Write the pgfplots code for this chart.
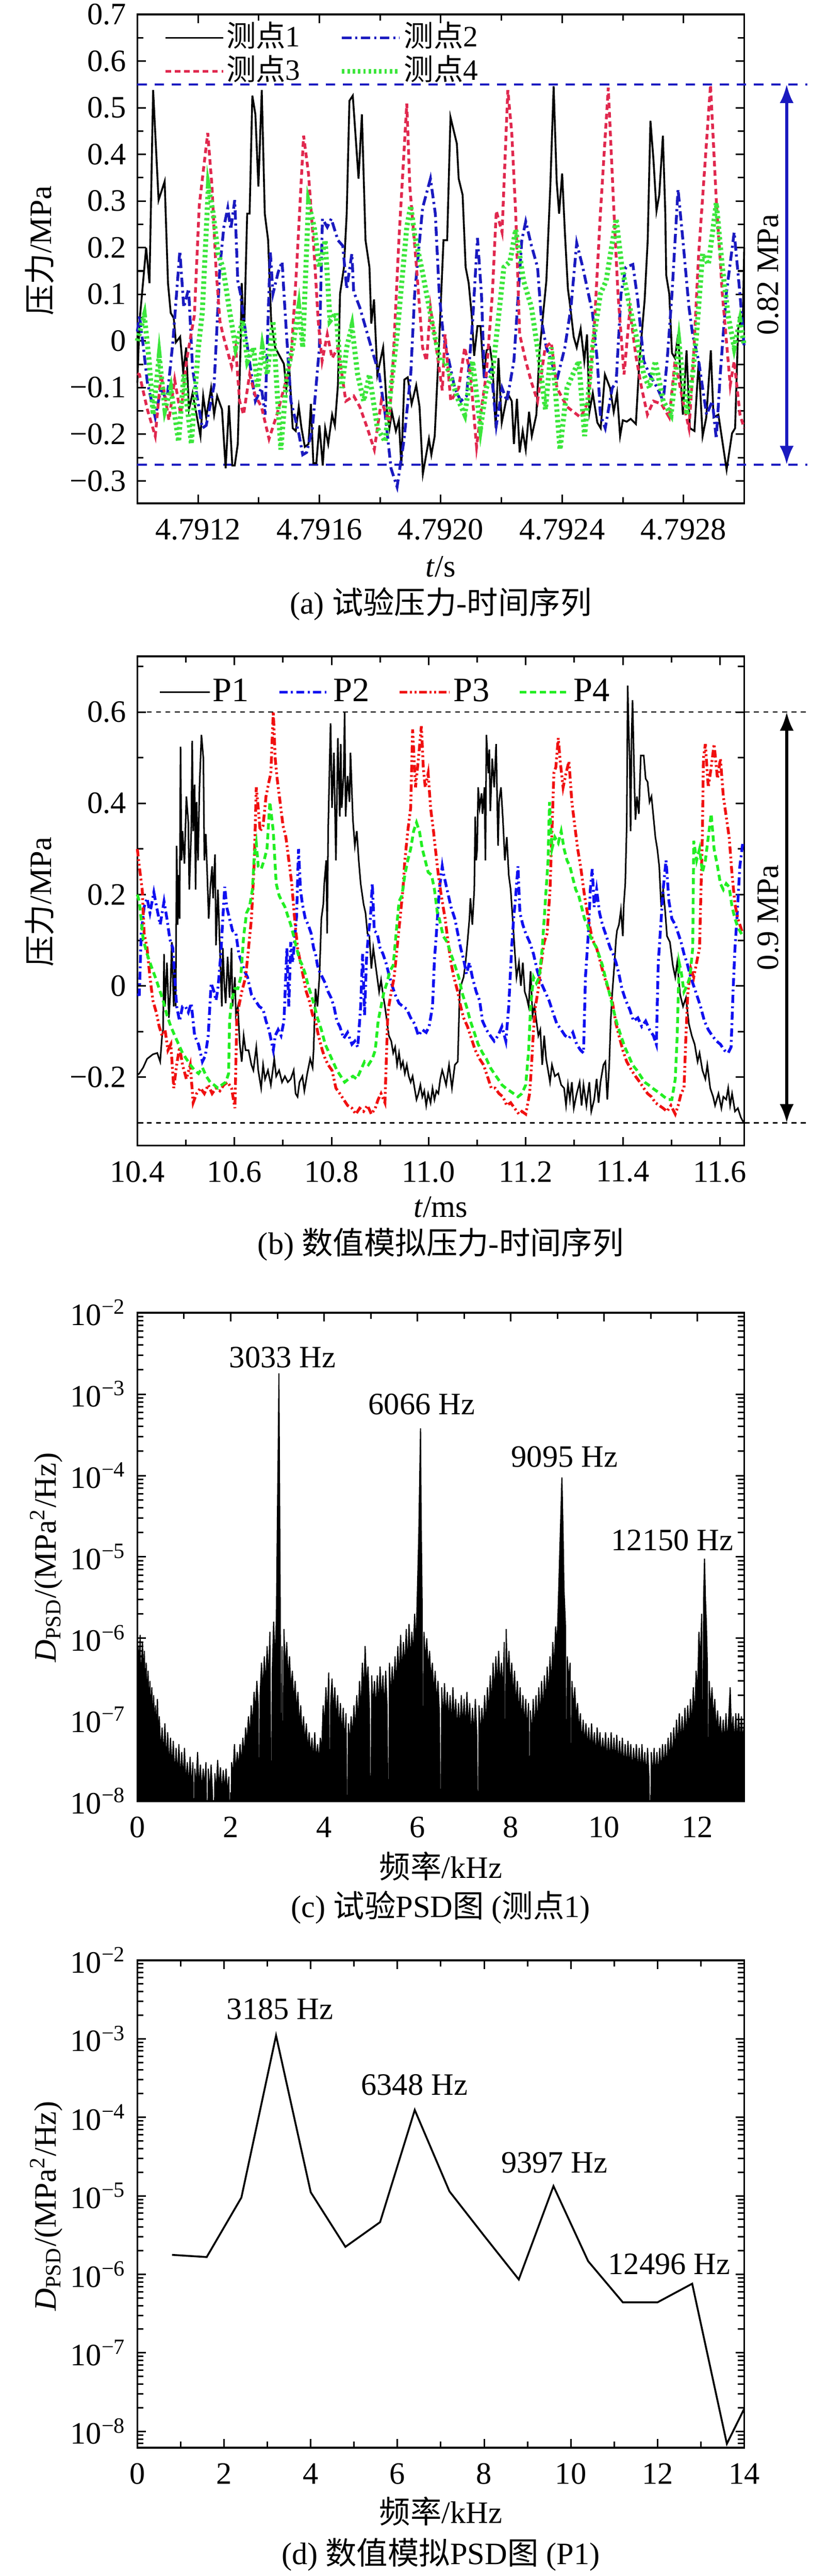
\documentclass[border=0pt]{standalone}
\usepackage{fontspec}
\setmainfont{Liberation Serif}
\newfontfamily\cjk{Noto Sans CJK SC}
\usepackage{pgfplots}
\pgfplotsset{compat=1.18}
\usetikzlibrary{arrows.meta}
\definecolor{ablue}{HTML}{1A1AC0}
\definecolor{ared}{HTML}{E0284E}
\definecolor{agreen}{HTML}{3CE63C}
\definecolor{bblue}{HTML}{1010F0}
\definecolor{bred}{HTML}{F01010}
\definecolor{bgreen}{HTML}{22EE22}
\pgfplotsset{
  common/.style={
    scale only axis, width=194.85pt,
    axis line style={line width=0.6pt},
    every tick/.style={line width=0.5pt, black},
    major tick length=2.8pt, minor tick length=2pt,
    tick align=inside,
    tick label style={font=\fontsize{10}{12}\selectfont},
    xticklabel style={yshift=-1.5pt},
    scaled ticks=false,
  },
  logminor/.style={minor ytick={7e-9,8e-9,9e-9,2e-8,3e-8,4e-8,5e-8,6e-8,7e-8,8e-8,9e-8,2e-7,3e-7,4e-7,5e-7,6e-7,7e-7,8e-7,9e-7,2e-6,3e-6,4e-6,5e-6,6e-6,7e-6,8e-6,9e-6,2e-5,3e-5,4e-5,5e-5,6e-5,7e-5,8e-5,9e-5,2e-4,3e-4,4e-4,5e-4,6e-4,7e-4,8e-4,9e-4,2e-3,3e-3,4e-3,5e-3,6e-3,7e-3,8e-3,9e-3}},
  legimg/.style={legend image code/.code={\draw[##1] (0pt,0pt) -- (#1,0pt);}},
}
\begin{document}
\begin{tikzpicture}
\useasboundingbox (0,0) rectangle (265.8pt,-827.7pt);
\tikzset{lab/.style={font=\fontsize{10}{12}\selectfont, inner sep=0pt}}
% ---------------- (a) ----------------
\begin{axis}[common, at={(44.1pt,-4.65pt)}, anchor=north west, height=157.05pt,
  xmin=0, xmax=2000, ymin=-0.348, ymax=0.7, clip=false,
  xtick={200,600,1000,1400,1800}, xticklabels={4.7912,4.7916,4.7920,4.7924,4.7928},
  minor xtick={400,800,1200,1600},
  ytick={-0.3,-0.2,-0.1,0,0.1,0.2,0.3,0.4,0.5,0.6,0.7},
  yticklabels={−0.3,−0.2,−0.1,0,0.1,0.2,0.3,0.4,0.5,0.6,0.7},
  minor ytick={-0.25,-0.15,-0.05,0.05,0.15,0.25,0.35,0.45,0.55,0.65},
  legend columns=2, legend cell align=left, legimg=18.5pt,
  legend style={draw=none, fill=none, at={(axis description cs:0.043,0.988)}, anchor=north west,
    inner sep=0pt, row sep=0pt,
    nodes={inner sep=0.6pt, text height=7.6pt, text depth=2pt, font=\fontsize{9.5}{11}\selectfont},
    /tikz/every even column/.append style={column sep=12pt}},
]
\draw[ablue, line width=0.6pt, dash pattern=on 3pt off 2.5pt] (axis cs:0,0.55) -- (axis cs:2209,0.55);
\draw[ablue, line width=0.6pt, dash pattern=on 3pt off 2.5pt] (axis cs:0,-0.265) -- (axis cs:2209,-0.265);
\addplot[black, line width=0.6pt] coordinates {
(0,-0.09) (7,0.04) (29,0.2) (40,0.124) (52,0.538) (70,0.302) (90,0.342) (101,0.124) (110,0.06) (120,0.049) (127,-0.003) (141,0.009) (151,-0.066) (161,-0.014) (170,-0.147) (182,-0.112) (208,-0.204) (217,-0.118) (227,-0.164) (243,-0.101) (253,-0.158) (263,-0.118) (279,-0.147) (291,-0.273) (302,-0.138) (313,-0.267) (321,-0.267) (331,-0.221) (340,-0.014) (344,0.124) (349,0.043) (353,0.043) (362,0.273) (370,0.273) (379,0.526) (389,0.486) (399,0.331) (410,0.538) (420,0.273) (431,0.216) (441,0.043) (454,-0.014) (473,-0.037) (483,-0.049) (491,-0.101) (500,-0.049) (512,-0.187) (522,-0.193) (532,-0.141) (541,-0.187) (552,-0.227) (564,-0.221) (572,-0.135) (580,-0.262) (590,-0.262) (600,-0.181) (611,-0.267) (619,-0.187) (629,-0.221) (642,-0.158) (651,-0.181) (661,-0.095) (668,0.101) (681,0.158) (690,0.273) (699,0.515) (710,0.526) (729,0.348) (740,0.486) (752,0.216) (765,0.158) (771,0.037) (780,0.089) (791,-0.072) (810,-0.014) (823,-0.152) (831,-0.187) (839,-0.152) (852,-0.193) (862,-0.170) (870,-0.267) (880,-0.083) (891,-0.078) (904,-0.135) (919,-0.095) (930,-0.141) (941,-0.285) (961,-0.210) (969,-0.244) (980,-0.204) (995,0.003) (1009,0.216) (1021,0.216) (1032,0.480) (1053,0.423) (1059,0.348) (1072,0.313) (1082,0.158) (1092,0.124) (1102,0.055) (1110,-0.032) (1121,0.032) (1131,0.032) (1142,-0.078) (1151,-0.020) (1162,-0.014) (1170,-0.049) (1181,-0.187) (1190,-0.037) (1201,-0.175) (1220,-0.112) (1234,-0.129) (1241,-0.221) (1251,-0.124) (1260,-0.239) (1270,-0.193) (1280,-0.233) (1291,-0.152) (1300,-0.204) (1315,-0.158) (1325,-0.026) (1348,0.129) (1361,0.331) (1372,0.546) (1382,0.342) (1390,0.273) (1400,0.359) (1409,0.233) (1419,0.112) (1427,0.072) (1438,0.009) (1448,-0.014) (1461,0.026) (1473,-0.043) (1482,0.014) (1490,-0.152) (1501,-0.112) (1516,-0.175) (1527,-0.187) (1541,-0.072) (1558,-0.101) (1570,-0.152) (1581,-0.112) (1591,-0.204) (1600,-0.170) (1613,-0.173) (1626,-0.167) (1643,-0.178) (1654,-0.049) (1672,0.089) (1682,0.216) (1691,0.472) (1701,0.388) (1711,0.279) (1720,0.313) (1732,0.440) (1740,0.273) (1743,0.141) (1753,0.101) (1762,-0.026) (1772,-0.037) (1782,0.014) (1798,-0.158) (1810,-0.020) (1821,-0.187) (1836,-0.193) (1850,-0.043) (1863,-0.204) (1875,-0.164) (1890,-0.020) (1899,-0.164) (1915,-0.158) (1942,-0.276) (1960,-0.198) (1970,-0.187) (1980,0.026) (1996,0.055) (2000,0.2)
};
\addlegendentry{{\cjk 测点}1}
\addplot[ablue, line width=0.9pt, dash pattern=on 3pt off 1.2pt on 0.7pt off 1.2pt] coordinates {
(0,0.02) (7,0.055) (20,-0.014) (33,-0.089) (59,-0.164) (78,-0.101) (97,-0.129) (117,-0.003) (140,0.193) (153,0.072) (169,0.112) (182,-0.060) (214,-0.187) (227,-0.181) (253,-0.095) (272,0.158) (285,0.244) (298,0.285) (308,0.239) (321,0.302) (331,0.129) (340,0.101) (363,-0.014) (389,-0.129) (409,-0.101) (421,-0.158) (438,0.193) (447,0.101) (464,0.147) (477,0.170) (486,0.072) (506,-0.129) (532,-0.198) (545,-0.244) (558,-0.239) (577,-0.187) (600,-0.014) (610,0.262) (626,0.244) (639,0.262) (661,0.216) (677,0.204) (690,0.112) (707,0.187) (713,0.106) (733,0.072) (746,0.043) (771,-0.014) (797,-0.072) (817,-0.158) (836,-0.273) (856,-0.313) (878,-0.216) (901,-0.072) (914,0.101) (940,0.285) (966,0.348) (982,0.273) (995,0.101) (1008,0.014) (1027,-0.043) (1046,-0.101) (1066,-0.129) (1085,-0.118) (1105,0.043) (1121,0.221) (1134,0.101) (1144,-0.083) (1166,-0.060) (1183,-0.181) (1202,-0.101) (1218,-0.129) (1241,-0.043) (1267,0.216) (1280,0.256) (1299,0.204) (1319,0.158) (1332,0.043) (1348,-0.014) (1364,-0.043) (1383,-0.083) (1409,-0.014) (1429,0.072) (1448,0.210) (1468,0.158) (1500,0.060) (1516,-0.043) (1526,-0.158) (1542,-0.187) (1565,-0.101) (1578,-0.089) (1594,0.101) (1610,0.158) (1633,0.164) (1649,0.089) (1669,-0.043) (1688,-0.072) (1714,-0.101) (1733,-0.129) (1746,-0.043) (1762,0.101) (1782,0.325) (1798,0.216) (1818,0.072) (1830,0.014) (1850,-0.043) (1863,-0.101) (1876,-0.158) (1895,-0.129) (1908,-0.210) (1921,-0.072) (1941,0.101) (1967,0.233) (1986,0.101) (2000,-0.014)
};
\addlegendentry{{\cjk 测点}2}
\addplot[ared, line width=0.9pt, dash pattern=on 1.8pt off 1.2pt] coordinates {
(0,-0.07) (7,-0.072) (33,-0.147) (59,-0.204) (78,-0.072) (91,-0.118) (104,-0.170) (123,-0.083) (143,-0.158) (162,-0.043) (188,0.055) (204,0.290) (232,0.446) (246,0.331) (259,0.158) (272,0.043) (282,0.014) (311,-0.055) (324,-0.014) (337,-0.129) (350,-0.158) (370,-0.072) (389,-0.118) (409,-0.141) (434,-0.210) (460,-0.158) (486,-0.095) (506,-0.043) (525,0.158) (548,0.440) (564,0.359) (583,0.187) (596,0.043) (609,-0.043) (626,0.014) (642,-0.037) (661,-0.014) (687,-0.129) (713,-0.118) (733,-0.141) (758,-0.187) (781,-0.233) (804,-0.129) (830,-0.175) (843,-0.043) (862,0.216) (888,0.509) (898,0.331) (920,0.158) (940,-0.014) (953,-0.043) (966,0.072) (985,-0.014) (1005,-0.106) (1014,0.014) (1033,-0.129) (1059,-0.101) (1079,-0.014) (1098,-0.072) (1118,-0.227) (1131,-0.158) (1150,-0.072) (1170,0.101) (1183,0.279) (1202,0.233) (1221,0.538) (1234,0.446) (1247,0.273) (1260,0.014) (1280,-0.043) (1299,-0.089) (1319,-0.129) (1344,-0.014) (1364,-0.003) (1383,-0.101) (1416,-0.141) (1461,-0.164) (1487,-0.129) (1507,0.043) (1526,0.273) (1552,0.543) (1571,0.273) (1584,0.101) (1604,-0.072) (1623,0.066) (1643,-0.032) (1662,-0.101) (1681,-0.158) (1701,-0.129) (1727,-0.135) (1753,-0.164) (1772,-0.043) (1798,-0.129) (1818,-0.187) (1830,-0.072) (1850,0.187) (1889,0.549) (1908,0.302) (1928,0.101) (1954,-0.095) (1967,-0.043) (1986,-0.158) (2000,-0.187)
};
\addlegendentry{{\cjk 测点}3}
\addplot[agreen, line width=1.6pt, dash pattern=on 0.8pt off 0.9pt] coordinates {
(0,0.0) (23,0.055) (39,-0.043) (52,-0.158) (72,-0.032) (91,-0.147) (110,-0.101) (136,-0.216) (153,-0.072) (178,-0.221) (201,-0.014) (214,0.060) (234,0.331) (250,0.273) (266,0.187) (282,0.158) (305,0.060) (324,-0.014) (347,0.043) (363,-0.043) (383,-0.014) (396,-0.101) (412,-0.014) (428,-0.072) (447,0.043) (460,-0.101) (473,-0.233) (493,-0.072) (512,-0.014) (532,0.072) (545,-0.014) (564,0.296) (583,0.244) (600,0.158) (619,0.216) (635,0.043) (655,0.060) (674,-0.101) (690,-0.014) (707,0.032) (726,-0.072) (746,-0.129) (765,-0.072) (791,-0.187) (817,-0.216) (836,-0.101) (856,0.014) (888,0.244) (901,0.290) (914,0.227) (940,0.147) (953,0.101) (979,0.014) (998,-0.043) (1014,-0.043) (1059,-0.129) (1079,-0.158) (1105,-0.043) (1131,-0.187) (1150,-0.101) (1170,-0.072) (1189,0.043) (1208,0.158) (1228,0.170) (1247,0.239) (1273,0.129) (1299,0.072) (1325,-0.043) (1345,-0.147) (1364,-0.014) (1377,-0.101) (1393,-0.233) (1416,-0.101) (1435,-0.072) (1455,-0.043) (1474,-0.204) (1500,-0.014) (1526,0.101) (1545,0.129) (1578,0.262) (1597,0.158) (1623,0.072) (1643,0.014) (1669,-0.072) (1688,-0.101) (1707,-0.043) (1733,-0.129) (1759,-0.158) (1785,-0.003) (1811,-0.158) (1830,-0.072) (1843,0.014) (1863,0.187) (1882,0.164) (1908,0.296) (1928,0.158) (1947,0.055) (1967,-0.014) (1986,0.043) (2000,-0.01)
};
\addlegendentry{{\cjk 测点}4}
\draw[ablue, line width=0.9pt, {Latex[length=6pt,width=4.5pt]}-{Latex[length=6pt,width=4.5pt]}] (axis cs:2140,0.55) -- (axis cs:2140,-0.265);
\node[lab, rotate=90] at (axis cs:2078,0.142) {0.82 MPa};
\end{axis}
% ---------------- (b) ----------------
\begin{axis}[common, at={(44.1pt,-210.9pt)}, anchor=north west, height=157.2pt,
  xmin=10.4, xmax=11.65, ymin=-0.35, ymax=0.722, clip=false,
  xtick={10.4,10.6,10.8,11.0,11.2,11.4,11.6}, xticklabels={10.4,10.6,10.8,11.0,11.2,11.4,11.6},
  minor xtick={10.5,10.7,10.9,11.1,11.3,11.5},
  ytick={-0.2,0,0.2,0.4,0.6}, yticklabels={−0.2,0,0.2,0.4,0.6},
  minor ytick={-0.3,-0.1,0.1,0.3,0.5,0.7},
  legend columns=4, legend cell align=left, legimg=16pt,
  legend style={draw=none, fill=none, at={(axis description cs:0.0346,0.962)}, anchor=north west,
    inner sep=0pt,
    nodes={inner sep=0.8pt, text height=7.5pt, text depth=1.5pt, font=\fontsize{11}{13}\selectfont},
    /tikz/every even column/.append style={column sep=8.5pt}},
]
\draw[black, line width=0.4pt, dash pattern=on 1.6pt off 1.4pt] (axis cs:10.4,0.6) -- (axis cs:11.781,0.6);
\draw[black, line width=0.4pt, dash pattern=on 1.6pt off 1.4pt] (axis cs:10.4,-0.3) -- (axis cs:11.781,-0.3);
\addplot[black, line width=0.5pt] coordinates {
(10.400,-0.195) (10.404,-0.192) (10.412,-0.179) (10.420,-0.160) (10.432,-0.150) (10.441,-0.147) (10.447,-0.166) (10.451,-0.109) (10.453,-0.096) (10.455,0.070) (10.457,-0.045) (10.461,0.051) (10.465,-0.070) (10.468,-0.013) (10.471,0.096) (10.473,0.019) (10.475,-0.045) (10.477,0.051) (10.479,-0.045) (10.481,0.307) (10.483,0.134) (10.485,0.243) (10.487,0.147) (10.489,0.524) (10.491,0.275) (10.493,0.339) (10.497,0.268) (10.501,0.415) (10.505,0.358) (10.507,0.211) (10.511,0.339) (10.513,0.537) (10.515,0.339) (10.518,0.441) (10.520,0.211) (10.522,0.403) (10.525,0.275) (10.528,0.435) (10.532,0.550) (10.536,0.498) (10.538,0.275) (10.541,0.333) (10.544,0.243) (10.547,0.147) (10.550,0.211) (10.554,0.262) (10.556,0.192) (10.560,0.288) (10.562,0.089) (10.566,0.211) (10.570,0.083) (10.574,-0.045) (10.576,0.083) (10.580,-0.013) (10.582,-0.038) (10.586,0.064) (10.590,-0.026) (10.594,0.083) (10.596,-0.045) (10.601,0.019) (10.603,-0.064) (10.607,-0.045) (10.611,-0.128) (10.615,-0.166) (10.619,-0.109) (10.623,-0.141) (10.629,-0.141) (10.635,-0.173) (10.639,-0.185) (10.645,-0.134) (10.649,-0.185) (10.655,-0.224) (10.659,-0.173) (10.663,-0.204) (10.669,-0.185) (10.675,-0.217) (10.682,-0.160) (10.686,-0.198) (10.692,-0.185) (10.698,-0.211) (10.704,-0.198) (10.710,-0.211) (10.716,-0.204) (10.722,-0.185) (10.726,-0.236) (10.730,-0.243) (10.734,-0.211) (10.740,-0.198) (10.744,-0.230) (10.750,-0.192) (10.756,-0.160) (10.761,-0.179) (10.763,-0.141) (10.767,-0.006) (10.771,-0.045) (10.775,0.019) (10.779,0.147) (10.783,0.179) (10.785,0.224) (10.789,0.275) (10.791,0.115) (10.793,0.339) (10.796,0.486) (10.798,0.575) (10.801,0.390) (10.805,0.511) (10.809,0.275) (10.813,0.543) (10.817,0.371) (10.819,0.530) (10.821,0.390) (10.825,0.466) (10.827,0.601) (10.829,0.371) (10.833,0.460) (10.837,0.403) (10.839,0.511) (10.844,0.364) (10.848,0.307) (10.852,0.339) (10.856,0.275) (10.860,0.224) (10.866,0.179) (10.870,0.160) (10.874,0.115) (10.878,0.109) (10.882,0.038) (10.886,0.083) (10.890,0.051) (10.894,0.019) (10.898,-0.013) (10.902,0.013) (10.906,-0.019) (10.910,-0.045) (10.914,-0.077) (10.918,-0.109) (10.923,-0.121) (10.927,-0.147) (10.931,-0.134) (10.935,-0.173) (10.939,-0.147) (10.943,-0.179) (10.947,-0.166) (10.951,-0.192) (10.955,-0.173) (10.959,-0.198) (10.963,-0.211) (10.967,-0.198) (10.971,-0.224) (10.975,-0.249) (10.979,-0.236) (10.983,-0.217) (10.987,-0.243) (10.991,-0.230) (10.995,-0.262) (10.999,-0.236) (11.004,-0.256) (11.008,-0.224) (11.012,-0.249) (11.016,-0.230) (11.020,-0.236) (11.024,-0.204) (11.028,-0.185)
(11.030,-0.192) (11.036,-0.217) (11.042,-0.173) (11.048,-0.224) (11.054,-0.173) (11.060,-0.166) (11.064,-0.013) (11.068,0.006) (11.072,0.019) (11.076,0.051) (11.080,0.096) (11.084,0.147) (11.086,0.192) (11.090,0.134) (11.094,0.211) (11.096,0.371) (11.098,0.275) (11.100,0.300) (11.102,0.435) (11.105,0.390) (11.109,0.422) (11.111,0.377) (11.115,0.435) (11.117,0.275) (11.119,0.550) (11.123,0.466) (11.125,0.518) (11.127,0.383) (11.131,0.498) (11.135,0.435) (11.139,0.530) (11.143,0.307) (11.145,0.403) (11.149,0.435) (11.153,0.364) (11.157,0.275) (11.161,0.326) (11.165,0.243) (11.169,0.211) (11.173,0.147) (11.177,0.083) (11.181,0.019) (11.186,0.051) (11.190,0) (11.194,0.051) (11.198,-0.013) (11.202,-0.026) (11.206,-0.045) (11.210,0.032) (11.214,-0.064) (11.218,-0.045) (11.222,-0.077) (11.226,-0.109) (11.230,-0.096) (11.234,-0.173) (11.238,-0.109) (11.242,-0.160) (11.246,-0.185) (11.250,-0.211) (11.254,-0.173) (11.260,-0.198) (11.267,-0.192) (11.273,-0.217) (11.279,-0.224) (11.283,-0.262) (11.287,-0.217) (11.291,-0.249) (11.295,-0.211) (11.299,-0.268) (11.305,-0.236) (11.311,-0.211) (11.315,-0.262) (11.319,-0.217) (11.325,-0.262) (11.331,-0.211) (11.335,-0.275) (11.341,-0.249) (11.346,-0.204) (11.350,-0.256) (11.354,-0.211) (11.360,-0.173) (11.364,-0.166) (11.368,-0.249) (11.372,-0.173) (11.375,-0.077) (11.378,-0.019) (11.382,0.038) (11.386,0.102) (11.388,0.121) (11.392,0.134) (11.396,0.166) (11.400,0.109) (11.402,0.179) (11.405,0.224) (11.408,0.351) (11.410,0.658) (11.412,0.562) (11.414,0.498) (11.416,0.339) (11.418,0.543) (11.420,0.626) (11.422,0.530) (11.424,0.435) (11.426,0.364) (11.429,0.415) (11.433,0.377) (11.437,0.505) (11.443,0.505) (11.447,0.454) (11.451,0.447) (11.455,0.403) (11.459,0.415) (11.463,0.371) (11.467,0.326) (11.471,0.300) (11.475,0.262) (11.479,0.173) (11.483,0.211) (11.487,0.166) (11.491,0.109) (11.497,0.096) (11.503,0.045) (11.508,0.019) (11.512,0.051) (11.518,-0.019) (11.524,-0.045) (11.530,-0.026) (11.536,-0.083) (11.542,-0.109) (11.548,-0.128) (11.554,-0.166) (11.558,-0.147) (11.564,-0.185) (11.570,-0.204) (11.574,-0.173) (11.580,-0.224) (11.586,-0.243) (11.590,-0.262) (11.597,-0.236) (11.603,-0.268) (11.607,-0.243) (11.613,-0.249) (11.617,-0.224) (11.621,-0.262) (11.625,-0.236) (11.631,-0.275) (11.637,-0.268) (11.643,-0.288) (11.649,-0.300)
};
\addlegendentry{P1}
\addplot[bblue, line width=0.9pt, dash pattern=on 2.6pt off 1.1pt on 0.6pt off 1.1pt] coordinates {
(10.400,-0.02) (10.404,-0.019) (10.408,0.115) (10.414,0.173) (10.420,0.192) (10.426,0.160) (10.434,0.205) (10.441,0.166) (10.447,0.134) (10.455,0.185) (10.461,0.147) (10.467,0.102) (10.473,0.083) (10.477,0.019) (10.481,-0.045) (10.487,-0.077) (10.493,-0.045) (10.499,-0.045) (10.505,-0.058) (10.511,-0.038) (10.518,-0.109) (10.526,-0.128) (10.534,-0.166) (10.540,-0.153) (10.546,-0.109) (10.552,0.006) (10.558,-0.013) (10.562,-0.032) (10.566,-0.006) (10.572,0.070) (10.576,0.147) (10.580,0.217) (10.584,0.173) (10.590,0.147) (10.596,0.121) (10.603,0.115) (10.609,0.070) (10.615,0.051) (10.621,0.032) (10.627,0.019) (10.635,-0.019) (10.643,-0.032) (10.651,-0.045) (10.659,-0.051) (10.665,-0.077) (10.671,-0.096) (10.680,-0.141) (10.684,-0.109) (10.690,-0.096) (10.696,-0.109) (10.702,-0.077) (10.708,0.083) (10.712,-0.045) (10.716,0.096) (10.720,0.051) (10.724,0.102) (10.728,0.153) (10.732,0.300) (10.736,0.211) (10.740,0.179) (10.746,0.147) (10.752,0.134) (10.758,0.115) (10.763,0.083) (10.767,0.070) (10.771,0.045) (10.775,0.032) (10.781,0.019) (10.787,0.006) (10.793,-0.013) (10.799,-0.026) (10.805,-0.045) (10.811,-0.077) (10.817,-0.089) (10.825,-0.115) (10.833,-0.102) (10.842,-0.128) (10.848,-0.121) (10.854,-0.134) (10.860,-0.045) (10.864,0.070) (10.868,-0.064) (10.872,0.058) (10.876,0.115) (10.880,0.147) (10.884,0.224) (10.888,0.121) (10.894,0.115) (10.900,0.083) (10.906,0.070) (10.912,0.051) (10.918,0.026) (10.925,0) (10.931,-0.019) (10.939,-0.038) (10.947,-0.045) (10.955,-0.051) (10.963,-0.070) (10.971,-0.083) (10.979,-0.109) (10.987,-0.096) (10.995,-0.102) (11.001,-0.089) (11.008,-0.045) (11.012,0.058) (11.016,0.115) (11.022,0.211) (11.028,0.262)
(11.030,0.249) (11.038,0.211) (11.046,0.173) (11.054,0.147) (11.060,0.115) (11.066,0.083) (11.072,0.058) (11.078,0.026) (11.084,0.051) (11.090,0.019) (11.098,-0.013) (11.105,-0.032) (11.111,-0.077) (11.119,-0.096) (11.127,-0.109) (11.135,-0.121) (11.143,-0.109) (11.151,-0.089) (11.159,-0.121) (11.165,-0.045) (11.171,0.083) (11.175,0.147) (11.179,0.192) (11.184,0.262) (11.188,0.160) (11.194,0.134) (11.200,0.115) (11.208,0.096) (11.216,0.070) (11.224,0.032) (11.232,0.006) (11.240,-0.013) (11.248,-0.032) (11.256,-0.058) (11.264,-0.083) (11.273,-0.096) (11.281,-0.109) (11.289,-0.115) (11.297,-0.102) (11.305,-0.128) (11.313,-0.141) (11.319,-0.147) (11.323,0.019) (11.329,0.115) (11.333,0.211) (11.337,0.256) (11.341,0.173) (11.346,0.211) (11.352,0.160) (11.358,0.134) (11.366,0.109) (11.374,0.083) (11.380,0.070) (11.386,0.051) (11.392,0.026) (11.398,-0.006) (11.406,-0.032) (11.414,-0.051) (11.422,-0.077) (11.431,-0.070) (11.439,-0.089) (11.447,-0.077) (11.455,-0.096) (11.463,-0.109) (11.469,-0.128) (11.473,0.051) (11.477,0.115) (11.483,0.211) (11.489,0.275) (11.495,0.185) (11.501,0.147) (11.508,0.134) (11.514,0.115) (11.520,0.096) (11.526,0.070) (11.532,0.051) (11.538,0.026) (11.544,0.006) (11.552,-0.019) (11.560,-0.045) (11.568,-0.077) (11.576,-0.096) (11.584,-0.109) (11.593,-0.121) (11.601,-0.128) (11.609,-0.141) (11.617,-0.147) (11.623,-0.134) (11.627,-0.013) (11.631,0.083) (11.635,0.147) (11.641,0.262) (11.647,0.313)
};
\addlegendentry{P2}
\addplot[bred, line width=0.9pt, dash pattern=on 2.4pt off 0.9pt on 0.6pt off 0.9pt on 0.6pt off 0.9pt] coordinates {
(10.400,0.300) (10.404,0.262) (10.410,0.211) (10.414,0.115) (10.420,0.083) (10.426,0.019) (10.432,-0.032) (10.439,-0.058) (10.445,-0.089) (10.451,-0.109) (10.457,-0.096) (10.463,-0.141) (10.469,-0.128) (10.475,-0.224) (10.481,-0.173) (10.487,-0.134) (10.493,-0.173) (10.501,-0.204) (10.509,-0.173) (10.515,-0.256) (10.522,-0.236) (10.530,-0.224) (10.538,-0.236) (10.546,-0.217) (10.554,-0.236) (10.562,-0.224) (10.570,-0.230) (10.578,-0.217) (10.586,-0.211) (10.594,-0.224) (10.601,-0.268) (10.605,-0.064) (10.609,-0.045) (10.615,-0.013) (10.623,0.019) (10.629,0.083) (10.635,0.147) (10.641,0.275) (10.645,0.435) (10.649,0.390) (10.653,0.339) (10.659,0.351) (10.665,0.415) (10.671,0.447) (10.675,0.466) (10.680,0.601) (10.684,0.498) (10.688,0.454) (10.694,0.403) (10.700,0.351) (10.706,0.326) (10.712,0.275) (10.718,0.224) (10.724,0.147) (10.730,0.083) (10.736,0.051) (10.742,0.019) (10.748,-0.013) (10.754,-0.032) (10.761,-0.064) (10.767,-0.077) (10.773,-0.109) (10.781,-0.141) (10.787,-0.160) (10.793,-0.173) (10.801,-0.185) (10.809,-0.224) (10.817,-0.236) (10.825,-0.249) (10.833,-0.262) (10.842,-0.268) (10.850,-0.281) (10.858,-0.268) (10.866,-0.275) (10.874,-0.262) (10.882,-0.281) (10.890,-0.268) (10.896,-0.249) (10.902,-0.236) (10.910,-0.256) (10.916,-0.058) (10.923,-0.013) (10.929,0.019) (10.935,0.083) (10.941,0.147) (10.947,0.211) (10.951,0.275) (10.957,0.339) (10.963,0.390) (10.967,0.562) (10.973,0.435) (10.979,0.498) (10.985,0.569) (10.989,0.479) (10.993,0.435) (10.999,0.466) (11.004,0.390) (11.010,0.339) (11.014,0.300) (11.020,0.243) (11.026,0.198)
(11.034,0.147) (11.040,0.096) (11.046,0.051) (11.052,0.019) (11.060,-0.013) (11.066,-0.045) (11.072,-0.070) (11.080,-0.089) (11.088,-0.115) (11.096,-0.141) (11.105,-0.160) (11.113,-0.173) (11.121,-0.198) (11.129,-0.224) (11.137,-0.224) (11.145,-0.236) (11.153,-0.243) (11.161,-0.262) (11.169,-0.256) (11.177,-0.268) (11.186,-0.281) (11.192,-0.275) (11.200,-0.281) (11.208,-0.236) (11.212,-0.173) (11.216,-0.096) (11.220,-0.045) (11.226,-0.006) (11.232,0.051) (11.238,0.096) (11.244,0.115) (11.250,0.211) (11.254,0.339) (11.258,0.467) (11.262,0.479) (11.267,0.543) (11.271,0.492) (11.277,0.435) (11.283,0.466) (11.289,0.492) (11.295,0.403) (11.301,0.351) (11.307,0.300) (11.313,0.262) (11.321,0.198) (11.329,0.147) (11.337,0.102) (11.346,0.083) (11.354,0.051) (11.362,0.019) (11.370,-0.006) (11.378,-0.032) (11.386,-0.083) (11.392,-0.109) (11.400,-0.141) (11.408,-0.166) (11.418,-0.185) (11.426,-0.198) (11.435,-0.211) (11.443,-0.224) (11.451,-0.236) (11.459,-0.243) (11.467,-0.256) (11.475,-0.262) (11.483,-0.268) (11.491,-0.275) (11.499,-0.262) (11.508,-0.281) (11.514,-0.262) (11.520,-0.236) (11.526,-0.224) (11.530,-0.109) (11.534,-0.013) (11.540,0.038) (11.546,0.019) (11.552,0.051) (11.558,0.083) (11.564,0.339) (11.566,0.498) (11.570,0.530) (11.576,0.435) (11.582,0.479) (11.588,0.530) (11.595,0.454) (11.601,0.498) (11.607,0.415) (11.613,0.371) (11.619,0.326) (11.625,0.243) (11.631,0.179) (11.637,0.147) (11.647,0.115)
};
\addlegendentry{P3}
\addplot[bgreen, line width=0.9pt, dash pattern=on 2pt off 1.2pt] coordinates {
(10.400,0.200) (10.404,0.185) (10.412,0.102) (10.420,0.070) (10.428,0.045) (10.437,0.019) (10.445,-0.006) (10.453,-0.032) (10.461,-0.064) (10.469,-0.089) (10.477,-0.109) (10.485,-0.128) (10.493,-0.147) (10.501,-0.160) (10.509,-0.173) (10.518,-0.185) (10.526,-0.192) (10.534,-0.179) (10.542,-0.198) (10.550,-0.211) (10.558,-0.217) (10.566,-0.224) (10.574,-0.217) (10.582,-0.211) (10.588,-0.192) (10.590,-0.077) (10.594,-0.032) (10.601,-0.006) (10.607,-0.006) (10.613,0.019) (10.619,0.109) (10.625,0.160) (10.631,0.173) (10.637,0.211) (10.641,0.288) (10.645,0.313) (10.649,0.262) (10.655,0.256) (10.661,0.275) (10.667,0.300) (10.673,0.403) (10.680,0.339) (10.686,0.224) (10.692,0.198) (10.698,0.185) (10.704,0.173) (10.710,0.153) (10.716,0.134) (10.722,0.109) (10.728,0.083) (10.734,0.058) (10.740,0.045) (10.746,0.026) (10.752,0) (10.758,-0.019) (10.765,-0.045) (10.771,-0.070) (10.779,-0.096) (10.787,-0.128) (10.795,-0.147) (10.803,-0.166) (10.811,-0.185) (10.819,-0.198) (10.827,-0.211) (10.835,-0.204) (10.844,-0.198) (10.852,-0.204) (10.860,-0.185) (10.868,-0.166) (10.876,-0.173) (10.884,-0.160) (10.890,-0.141) (10.896,-0.077) (10.902,-0.045) (10.908,-0.013) (10.914,0.006) (10.920,0.032) (10.927,0.045) (10.933,0.115) (10.939,0.185) (10.945,0.198) (10.951,0.243) (10.957,0.275) (10.963,0.300) (10.969,0.339) (10.975,0.358) (10.981,0.339) (10.987,0.300) (10.993,0.275) (10.999,0.249) (11.006,0.243) (11.012,0.211) (11.018,0.160)
(11.022,0.147) (11.030,0.109) (11.038,0.096) (11.046,0.070) (11.054,0.045) (11.062,0.019) (11.070,-0.019) (11.078,-0.045) (11.086,-0.077) (11.094,-0.102) (11.102,-0.128) (11.111,-0.147) (11.119,-0.160) (11.127,-0.179) (11.135,-0.192) (11.143,-0.204) (11.151,-0.217) (11.159,-0.224) (11.167,-0.230) (11.175,-0.236) (11.184,-0.243) (11.192,-0.236) (11.200,-0.217) (11.206,-0.141) (11.210,-0.045) (11.216,0.019) (11.222,0.006) (11.228,0.019) (11.234,0.083) (11.240,0.179) (11.246,0.275) (11.249,0.403) (11.254,0.300) (11.260,0.326) (11.267,0.313) (11.273,0.339) (11.279,0.300) (11.285,0.275) (11.291,0.262) (11.297,0.236) (11.303,0.211) (11.309,0.198) (11.315,0.173) (11.321,0.147) (11.327,0.134) (11.333,0.109) (11.339,0.096) (11.346,0.083) (11.352,0.064) (11.358,0.045) (11.364,0.019) (11.370,-0.006) (11.376,-0.032) (11.382,-0.058) (11.388,-0.083) (11.396,-0.109) (11.404,-0.134) (11.412,-0.153) (11.420,-0.173) (11.429,-0.185) (11.437,-0.198) (11.445,-0.211) (11.453,-0.217) (11.461,-0.224) (11.469,-0.230) (11.477,-0.236) (11.485,-0.243) (11.493,-0.249) (11.501,-0.249) (11.508,-0.204) (11.512,-0.109) (11.516,0.051) (11.520,0.032) (11.526,-0.013) (11.532,0) (11.538,0.019) (11.544,0.083) (11.546,0.318) (11.552,0.275) (11.558,0.300) (11.564,0.249) (11.570,0.275) (11.576,0.326) (11.582,0.377) (11.588,0.300) (11.595,0.262) (11.601,0.224) (11.607,0.211) (11.613,0.224) (11.619,0.217) (11.625,0.173) (11.631,0.147) (11.637,0.128) (11.647,0.109)
};
\addlegendentry{P4}
\draw[black, line width=0.9pt, {Latex[length=6pt,width=4.5pt]}-{Latex[length=6pt,width=4.5pt]}] (axis cs:11.7376,0.6) -- (axis cs:11.7376,-0.3);
\node[lab, rotate=90] at (axis cs:11.699,0.15) {0.9 MPa};
\end{axis}
% ---------------- (c) ----------------
\begin{axis}[common, logminor, at={(44.1pt,-421.8pt)}, anchor=north west, height=156.9pt,
  ymode=log, xmin=0, xmax=13, ymin=1e-8, ymax=1e-2,
  xtick={0,2,4,6,8,10,12}, xticklabels={0,2,4,6,8,10,12}, minor xtick={1,3,5,7,9,11,13},
  ytick={1e-8,1e-7,1e-6,1e-5,1e-4,1e-3,1e-2},
  yticklabels={10\textsuperscript{−8},10\textsuperscript{−7},10\textsuperscript{−6},10\textsuperscript{−5},10\textsuperscript{−4},10\textsuperscript{−3},10\textsuperscript{−2}},
]
\addplot[black, fill=black, line width=0.35pt] coordinates {
(0.00,1e-9) (0.00,3e-7) (0.02,8e-7) (0.04,4e-7) (0.06,1.1e-6) (0.08,1e-9) (0.09,5e-7) (0.11,9e-7) (0.13,3e-7) (0.15,7e-7) (0.17,2e-7) (0.19,5e-7) (0.21,1.5e-7) (0.23,4e-7) (0.25,1.2e-7) (0.27,3e-7) (0.29,1e-7) (0.31,2.5e-7) (0.33,8e-8) (0.35,2e-7) (0.37,7e-8) (0.39,1.5e-7) (0.41,6e-8) (0.43,1.8e-7) (0.45,5e-8) (0.47,1.1e-7) (0.50,4e-8) (0.53,8e-8) (0.56,3.5e-8) (0.59,9e-8) (0.62,3e-8) (0.65,7e-8) (0.68,2.5e-8) (0.71,6e-8) (0.74,2.5e-8) (0.77,5.5e-8) (0.80,2e-8) (0.83,4.5e-8) (0.86,2e-8) (0.89,5e-8) (0.92,1.8e-8) (0.95,4e-8) (0.98,1.8e-8)
(1.01,4.5e-8) (1.04,1.6e-8) (1.07,3e-8) (1.10,1.5e-8) (1.13,3.5e-8) (1.16,1.4e-8) (1.19,3e-8) (1.21,1e-9) (1.23,2.5e-8) (1.26,1.5e-8) (1.29,4e-8) (1.32,1.4e-8) (1.35,2.8e-8) (1.38,1.3e-8) (1.41,2.5e-8) (1.44,1.5e-8) (1.47,3e-8) (1.50,1e-9) (1.52,2.5e-8) (1.55,1.3e-8) (1.58,2.8e-8) (1.61,1.2e-8) (1.64,1e-9) (1.66,2.2e-8) (1.69,1.3e-8) (1.72,3.2e-8) (1.75,1.4e-8) (1.78,2.6e-8) (1.81,1.2e-8) (1.84,2.4e-8) (1.87,1.3e-8) (1.90,2.5e-8) (1.93,1.2e-8) (1.96,2e-8) (1.99,1e-9)
(2.02,3e-8) (2.05,2e-8) (2.08,5e-8) (2.11,2.2e-8) (2.14,4e-8) (2.17,2.5e-8) (2.20,5e-8) (2.23,2.8e-8) (2.26,6e-8) (2.29,3.5e-8) (2.32,8e-8) (2.35,5e-8) (2.38,1.1e-7) (2.41,6e-8) (2.44,1.5e-7) (2.47,8e-8) (2.50,2.2e-7) (2.53,1.2e-7) (2.56,3e-7) (2.59,1.5e-7) (2.61,1e-9) (2.63,2e-7) (2.66,5e-7) (2.69,2.2e-7) (2.72,6e-7) (2.75,2.5e-7) (2.78,8e-7) (2.81,3e-7) (2.84,1.2e-6) (2.87,1e-9) (2.89,4e-7) (2.92,1.6e-6) (2.95,5e-7) (2.98,2e-6)
(3.00,3e-5) (3.02,3e-4) (3.033,1.8e-3) (3.045,1e-4) (3.06,3e-6) (3.08,1e-9) (3.10,8e-7) (3.12,1e-9) (3.14,1.3e-6) (3.17,4e-7) (3.20,9e-7) (3.23,3e-7) (3.26,6e-7) (3.29,2.2e-7) (3.32,4e-7) (3.35,1.6e-7) (3.38,3e-7) (3.41,1.2e-7) (3.44,2.2e-7) (3.47,8e-8) (3.50,1.5e-7) (3.53,6e-8) (3.56,1.1e-7) (3.59,5e-8) (3.62,9e-8) (3.65,4e-8) (3.68,7e-8) (3.71,3.5e-8) (3.74,6e-8) (3.77,3e-8) (3.80,7e-8) (3.83,3e-8) (3.86,5e-8) (3.89,3e-8) (3.92,6e-8) (3.95,4e-8) (3.98,1.5e-7)
(4.01,8e-8) (4.04,2.5e-7) (4.07,1e-7) (4.10,3.8e-7) (4.12,1e-9) (4.14,1.5e-7) (4.17,3.2e-7) (4.20,1.2e-7) (4.23,2.5e-7) (4.26,9e-8) (4.29,2e-7) (4.32,7e-8) (4.35,1.6e-7) (4.38,6e-8) (4.41,1.4e-7) (4.44,5e-8) (4.47,1.2e-7) (4.50,1e-9) (4.52,9e-8) (4.55,5e-8) (4.58,1.1e-7) (4.61,6e-8) (4.64,1.5e-7) (4.67,7e-8) (4.70,2e-7) (4.73,9e-8) (4.76,3e-7) (4.79,1.2e-7) (4.82,5e-7) (4.85,2e-7) (4.88,8e-7) (4.91,2.5e-7) (4.94,4.5e-7) (4.97,1.5e-7)
(5.00,1e-9) (5.02,3.5e-7) (5.05,1.4e-7) (5.08,3e-7) (5.11,1.2e-7) (5.14,3.5e-7) (5.17,1.4e-7) (5.20,4.5e-7) (5.23,1.6e-7) (5.26,3.5e-7) (5.29,1.3e-7) (5.32,4e-7) (5.35,1.5e-7) (5.38,1e-9) (5.40,5e-7) (5.43,1.8e-7) (5.46,4.5e-7) (5.49,2e-7) (5.52,6e-7) (5.55,2.5e-7) (5.58,8e-7) (5.61,3e-7) (5.64,1.1e-6) (5.67,3.5e-7) (5.70,9e-7) (5.73,4e-7) (5.76,1.3e-6) (5.79,4.5e-7) (5.82,1.5e-6) (5.85,5e-7) (5.88,1.2e-6) (5.91,6e-7) (5.94,2e-6) (5.97,8e-7)
(6.00,4e-6) (6.03,2e-5) (6.066,3.8e-4) (6.08,3e-5) (6.10,3e-6) (6.12,1e-9) (6.14,1.2e-6) (6.17,5e-7) (6.20,1e-6) (6.23,4e-7) (6.26,7e-7) (6.29,3e-7) (6.32,5e-7) (6.35,2e-7) (6.38,4e-7) (6.41,1.5e-7) (6.44,3e-7) (6.47,1.2e-7) (6.50,1e-9) (6.52,2.5e-7) (6.55,1e-7) (6.58,2.8e-7) (6.61,1e-7) (6.64,2.2e-7) (6.67,9e-8) (6.70,2e-7) (6.73,8e-8) (6.76,2.5e-7) (6.79,9e-8) (6.82,1.8e-7) (6.85,7e-8) (6.88,1.6e-7) (6.91,7e-8) (6.94,2e-7) (6.97,8e-8)
(7.00,1.8e-7) (7.03,7e-8) (7.06,2.2e-7) (7.09,8e-8) (7.12,1.6e-7) (7.15,6e-8) (7.18,1.4e-7) (7.21,6e-8) (7.24,1.8e-7) (7.27,7e-8) (7.30,1e-9) (7.32,1.5e-7) (7.35,6e-8) (7.38,1.4e-7) (7.41,7e-8) (7.44,2e-7) (7.47,8e-8) (7.50,2.5e-7) (7.53,1.1e-7) (7.56,3.5e-7) (7.59,1.4e-7) (7.62,5e-7) (7.65,2e-7) (7.68,6e-7) (7.71,2.5e-7) (7.74,7e-7) (7.77,2.5e-7) (7.80,5e-7) (7.83,2e-7) (7.86,9e-7) (7.88,1e-9) (7.90,1.3e-6) (7.93,3e-7) (7.96,7e-7) (7.99,2.5e-7)
(8.02,5e-7) (8.05,1.8e-7) (8.08,4e-7) (8.11,1.4e-7) (8.14,3e-7) (8.17,1.1e-7) (8.20,2.5e-7) (8.23,9e-8) (8.26,2e-7) (8.29,8e-8) (8.32,1.8e-7) (8.35,7e-8) (8.38,1.6e-7) (8.40,1e-9) (8.42,1.3e-7) (8.45,6e-8) (8.48,1.8e-7) (8.51,7e-8) (8.54,2e-7) (8.57,8e-8) (8.60,2.5e-7) (8.63,1e-7) (8.66,3e-7) (8.69,1.2e-7) (8.72,3.5e-7) (8.75,1.5e-7) (8.78,4.5e-7) (8.81,1.8e-7) (8.84,6e-7) (8.87,2.5e-7) (8.90,9e-7) (8.93,4e-7) (8.96,1.4e-6) (8.99,8e-7)
(9.02,3e-6) (9.05,1.2e-5) (9.095,9.5e-5) (9.12,2e-5) (9.14,4e-6) (9.17,1.5e-6) (9.19,1e-9) (9.21,6e-7) (9.24,3e-7) (9.27,5e-7) (9.29,1e-9) (9.31,3e-7) (9.34,1.3e-7) (9.37,2.5e-7) (9.40,1e-7) (9.43,1.6e-7) (9.46,7e-8) (9.49,1.2e-7) (9.52,5e-8) (9.55,1e-7) (9.58,5e-8) (9.61,9e-8) (9.64,4.5e-8) (9.67,8e-8) (9.70,4e-8) (9.73,9e-8) (9.76,4e-8) (9.79,7e-8) (9.82,3.5e-8) (9.85,8e-8) (9.88,4e-8) (9.91,7e-8) (9.94,3.5e-8) (9.97,6e-8)
(10.00,3.5e-8) (10.03,7e-8) (10.06,3e-8) (10.09,6e-8) (10.12,3e-8) (10.15,7e-8) (10.18,3e-8) (10.21,6e-8) (10.24,3e-8) (10.27,6.5e-8) (10.30,2.8e-8) (10.33,5.5e-8) (10.36,2.8e-8) (10.39,6e-8) (10.42,2.5e-8) (10.45,5e-8) (10.48,2.5e-8) (10.51,5.5e-8) (10.54,2.5e-8) (10.57,5e-8) (10.60,2.3e-8) (10.63,4.5e-8) (10.66,2.5e-8) (10.69,5e-8) (10.72,2.2e-8) (10.75,4.5e-8) (10.78,2.2e-8) (10.81,5e-8) (10.84,2.2e-8) (10.87,4e-8) (10.90,2e-8) (10.93,4.5e-8) (10.96,2e-8) (10.99,1e-9)
(11.01,4e-8) (11.04,2e-8) (11.07,4.5e-8) (11.10,2e-8) (11.13,4e-8) (11.16,2e-8) (11.19,4.5e-8) (11.22,2.2e-8) (11.25,5e-8) (11.28,2.5e-8) (11.31,5e-8) (11.34,2.5e-8) (11.37,6e-8) (11.40,3e-8) (11.43,7e-8) (11.46,3e-8) (11.49,8e-8) (11.52,4e-8) (11.55,1e-7) (11.58,4.5e-8) (11.61,1.2e-7) (11.64,5e-8) (11.67,1.1e-7) (11.70,5e-8) (11.73,1.4e-7) (11.76,6e-8) (11.79,1.5e-7) (11.82,7e-8) (11.85,1.8e-7) (11.88,8e-8) (11.91,2.5e-7) (11.94,1e-7) (11.97,4e-7)
(12.00,2e-7) (12.03,1.2e-6) (12.06,5e-7) (12.09,2e-6) (12.11,1e-9) (12.13,3e-6) (12.15,9.5e-6) (12.17,3e-6) (12.19,1.5e-6) (12.21,5e-7) (12.23,1e-9) (12.25,3e-7) (12.28,1.3e-7) (12.31,2.5e-7) (12.34,1e-7) (12.37,1.8e-7) (12.40,7e-8) (12.43,1.3e-7) (12.46,6e-8) (12.49,1.1e-7) (12.52,5e-8) (12.55,1e-7) (12.58,5e-8) (12.61,1.2e-7) (12.64,5e-8) (12.67,1.1e-7) (12.70,2.5e-7) (12.73,6e-8) (12.76,1.1e-7) (12.79,5e-8) (12.82,1.2e-7) (12.85,5e-8) (12.88,1.2e-7) (12.91,5e-8) (12.94,1.1e-7) (12.97,5e-8) (13.00,1e-7) (13.00,1e-9)
};
\node[lab] at (axis cs:3.11,2.83e-3) {3033 Hz};
\node[lab] at (axis cs:6.09,7.5e-4) {6066 Hz};
\node[lab] at (axis cs:9.15,1.7e-4) {9095 Hz};
\node[lab] at (axis cs:11.46,1.6e-5) {12150 Hz};
\end{axis}
% ---------------- (d) ----------------
\begin{axis}[common, logminor, at={(44.1pt,-629.85pt)}, anchor=north west, height=156.6pt,
  ymode=log, xmin=0, xmax=14, ymin=6.2e-9, ymax=1e-2,
  xtick={0,2,4,6,8,10,12,14}, xticklabels={0,2,4,6,8,10,12,14}, minor xtick={1,3,5,7,9,11,13},
  ytick={1e-8,1e-7,1e-6,1e-5,1e-4,1e-3,1e-2},
  yticklabels={10\textsuperscript{−8},10\textsuperscript{−7},10\textsuperscript{−6},10\textsuperscript{−5},10\textsuperscript{−4},10\textsuperscript{−3},10\textsuperscript{−2}},
]
\addplot[black, line width=0.6pt] coordinates {
(0.8,1.77e-6) (1.6,1.66e-6) (2.4,9.5e-6) (3.2,1.1e-3) (4.0,1.11e-5) (4.8,2.24e-6) (5.6,4.62e-6) (6.4,1.24e-4) (7.2,1.14e-5) (8.0,3.1e-6) (8.8,8.6e-7) (9.6,1.33e-5) (10.4,1.47e-6) (11.2,4.4e-7) (12.0,4.4e-7) (12.8,7.6e-7) (13.6,6.95e-9) (14.4,5.4e-8)
};
\node[lab] at (axis cs:3.29,2.4e-3) {3185 Hz};
\node[lab] at (axis cs:6.39,2.6e-4) {6348 Hz};
\node[lab] at (axis cs:9.62,2.65e-5) {9397 Hz};
\node[lab] at (axis cs:12.27,1.34e-6) {12496 Hz};
\end{axis}
% ---------------- labels ----------------
\node[lab, rotate=90] at (12.75pt,-80.6pt) {{\cjk 压力}/MPa};
\node[lab, rotate=90] at (12.75pt,-289.8pt) {{\cjk 压力}/MPa};
\node[lab, rotate=90] at (14.9pt,-500.4pt) {\textit{D}\textsubscript{PSD}/(MPa\textsuperscript{2}/Hz)};
\node[lab, rotate=90] at (14.9pt,-708.8pt) {\textit{D}\textsubscript{PSD}/(MPa\textsuperscript{2}/Hz)};
\node[lab] at (141.5pt,-182.1pt) {\textit{t}/s};
\node[lab] at (141.5pt,-387.9pt) {\textit{t}/ms};
\node[lab] at (141.5pt,-599.6pt) {{\cjk 频率}/kHz};
\node[lab] at (141.5pt,-806.9pt) {{\cjk 频率}/kHz};
\node[lab] at (141.5pt,-194.1pt) {(a) {\cjk 试验压力}-{\cjk 时间序列}};
\node[lab] at (141.5pt,-399.8pt) {(b) {\cjk 数值模拟压力}-{\cjk 时间序列}};
\node[lab] at (141.5pt,-612.9pt) {(c) {\cjk 试验}PSD{\cjk 图} ({\cjk 测点}1)};
\node[lab] at (141.5pt,-820.8pt) {(d) {\cjk 数值模拟}PSD{\cjk 图} (P1)};
\end{tikzpicture}
\end{document}
